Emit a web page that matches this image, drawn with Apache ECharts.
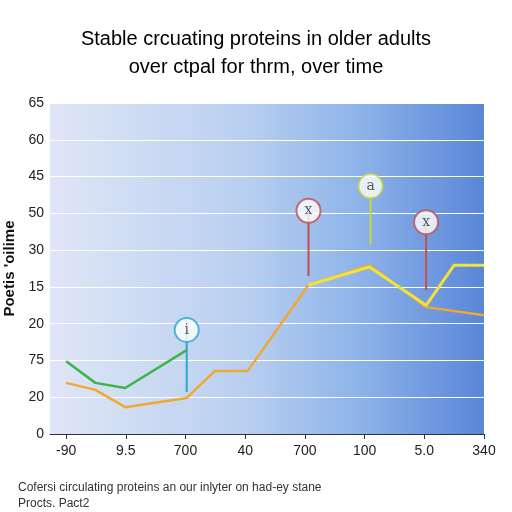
<!DOCTYPE html>
<html>
<head>
<meta charset="utf-8">
<script src="https://cdn.jsdelivr.net/npm/echarts@6/dist/echarts.min.js"></script>
<style>html,body{margin:0;padding:0;background:#fff}#main{width:512px;height:512px}</style>
</head>
<body>
<div id="main"></div>
<script>
// tick labels as printed in the picture
var xTickLabels = ['-90', '9.5', '700', '40', '700', '100', '5.0', '340'];
var yTickLabels = ['0', '20', '75', '20', '15', '30', '50', '45', '60', '65'];

// series points [x position, y position] in tick units
var orangeData = [[0, 1.39], [0.49, 1.2], [0.99, 0.73], [2.02, 0.98], [2.49, 1.71], [3.04, 1.71], [4.06, 4.05], [5.08, 4.59], [6.03, 3.45], [7, 3.23]];
var yellowData = [[4.06, 4.05], [5.08, 4.54], [6.03, 3.5], [6.5, 4.59], [7, 4.59]];
var greenData = [[0, 1.98], [0.49, 1.39], [0.99, 1.25], [2.02, 2.28]];

// pin annotations: x, head y, foot y, label, colour
var pinX = [2.02, 4.06, 5.1, 6.03];
var pinTop = [2.83, 6.07, 6.74, 5.76];
var pinFoot = [1.14, 4.29, 5.16, 3.91];
var pinText = ['i', 'x', 'a', 'x'];
var pinColor = ['#2aa7c9', '#c0504d', '#c9d63a', '#c0504d'];

var chart = echarts.init(document.getElementById('main'));

var pinSeries = [];
for (var i = 0; i < pinX.length; i++) {
    pinSeries.push({
        type: 'line', symbol: 'none', silent: true, z: 3,
        lineStyle: { color: pinColor[i], width: 2 },
        data: [[pinX[i], pinFoot[i]], [pinX[i], pinTop[i]]]
    });
}
pinSeries.push({
    type: 'scatter', z: 5, symbolSize: 24,
    data: pinX.map(function (x, i) {
        return {
            value: [x, pinTop[i]],
            itemStyle: { color: '#fff', borderColor: pinColor[i], borderWidth: 2 },
            label: { show: true, position: 'inside', formatter: pinText[i], color: '#333', fontSize: 14, fontFamily: 'DejaVu Serif' }
        };
    })
});

option = {
    backgroundColor: '#fff',
    title: {
        text: 'Stable crcuating proteins in older adults\nover ctpal for thrm, over time',
        left: 'center', top: 20,
        textStyle: { fontSize: 20, fontWeight: 'normal', color: '#000', lineHeight: 28, fontFamily: 'Liberation Sans' }
    },
    graphic: [
        { type: 'text', left: 18, top: 480,
          style: { text: 'Cofersi circulating proteins an our inlyter on had-ey stane\nProcts. Pact2', fontSize: 12, fill: '#333', lineHeight: 16, fontFamily: 'Liberation Sans' } }
    ],
    grid: {
        left: 50, right: 28, top: 103, bottom: 78,
        outerBoundsMode: 'none',
        show: true, borderWidth: 0,
        backgroundColor: new echarts.graphic.LinearGradient(0, 0, 1, 0, [
            { offset: 0, color: '#dfe6f6' },
            { offset: 0.45, color: '#b9cff0' },
            { offset: 0.7, color: '#8fb5ea' },
            { offset: 1, color: '#5a86d8' }
        ])
    },
    xAxis: {
        type: 'value', min: -0.27, max: 7,
        axisLine: { show: true, lineStyle: { color: '#333' } },
        splitLine: { show: false },
        axisTick: { show: true, customValues: [0, 1, 2, 3, 4, 5, 6, 7] },
        axisLabel: {
            customValues: [0, 1, 2, 3, 4, 5, 6, 7],
            formatter: function (v) { return xTickLabels[Math.round(v)]; },
            fontSize: 14, color: '#222', margin: 10
        }
    },
    yAxis: {
        type: 'value', min: 0, max: 9, interval: 1,
        name: "Poetis 'oilime", nameLocation: 'middle', nameGap: 30,
        nameTextStyle: { fontSize: 15, fontWeight: 'bold', color: '#111' },
        axisLine: { show: false }, axisTick: { show: false },
        splitLine: { lineStyle: { color: '#ffffff', width: 1.2 } },
        axisLabel: {
            formatter: function (v) { return yTickLabels[Math.round(v)]; },
            fontSize: 14, color: '#222', margin: 6
        }
    },
    series: [
        { type: 'line', data: orangeData, symbol: 'none', z: 4, lineStyle: { color: '#f0a830', width: 2.5 } },
        { type: 'line', data: yellowData, symbol: 'none', z: 4, lineStyle: { color: '#f2e23a', width: 3 } },
        { type: 'line', data: greenData, symbol: 'none', z: 4, lineStyle: { color: '#3cb54a', width: 2.5 } }
    ].concat(pinSeries)
};
chart.setOption(option);
</script>
</body>
</html>
